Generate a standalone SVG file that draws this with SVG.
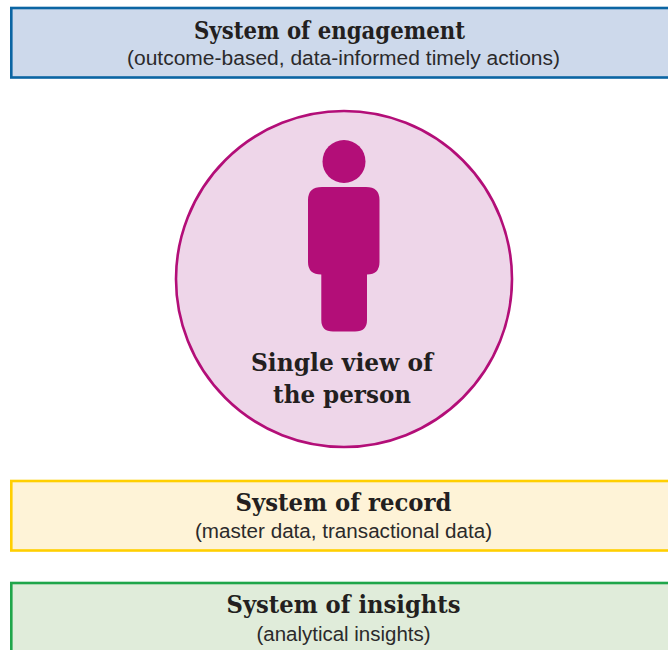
<svg xmlns="http://www.w3.org/2000/svg" width="668" height="650" viewBox="0 0 668 650">
<style>
.box{stroke-width:2.6}
.t{font-family:"DejaVu Serif","Liberation Serif",serif;font-weight:700;font-size:25px;fill:#231f20;text-anchor:middle}
.s{font-family:"Liberation Sans",Arial,sans-serif;font-size:20px;fill:#2b2a2b;text-anchor:middle}
.p{fill:#b30e78}
</style>
<rect width="668" height="650" fill="#fff"/>
<g id="engagement">
<rect class="box" x="11.3" y="8" width="670" height="69.5" fill="#cdd9eb" stroke="#0b65a3"/>
<text class="t" x="329.5" y="39" textLength="271" lengthAdjust="spacingAndGlyphs">System of engagement</text>
<text class="s" x="343.5" y="65" textLength="433" lengthAdjust="spacingAndGlyphs">(outcome-based, data-informed timely actions)</text>
</g>
<g id="person">
<circle cx="344" cy="279" r="168" fill="#eed6e9" stroke="#b30e78" stroke-width="2.6"/>
<circle class="p" cx="344" cy="161.5" r="21.5"/>
<path class="p" d="M322 187H366Q379.500 187 379.500 200V262Q379.500 274.500 367 274.500V320Q367 331.500 355 331.500H333Q321.300 331.500 321.300 320V274.500Q308 274.500 308 262V200Q308 187 322 187Z"/>
<text class="t" x="342" y="371" textLength="182" lengthAdjust="spacingAndGlyphs">Single view of</text>
<text class="t" x="342" y="403" textLength="138" lengthAdjust="spacingAndGlyphs">the person</text>
</g>
<g id="record">
<rect class="box" x="11.300" y="481" width="670" height="69.500" fill="#fef3d7" stroke="#ffcf01"/>
<text class="t" x="343.500" y="511" textLength="216" lengthAdjust="spacingAndGlyphs">System of record</text>
<text class="s" x="343.500" y="538" textLength="297" lengthAdjust="spacingAndGlyphs">(master data, transactional data)</text>
</g>
<g id="insights">
<rect class="box" x="11.300" y="583" width="670" height="80" fill="#e0ecda" stroke="#1fa64a"/>
<text class="t" x="343.500" y="613" textLength="234" lengthAdjust="spacingAndGlyphs">System of insights</text>
<text class="s" x="343.500" y="641" textLength="174" lengthAdjust="spacingAndGlyphs">(analytical insights)</text>
</g>
<g id="connectors"/>
</svg>
